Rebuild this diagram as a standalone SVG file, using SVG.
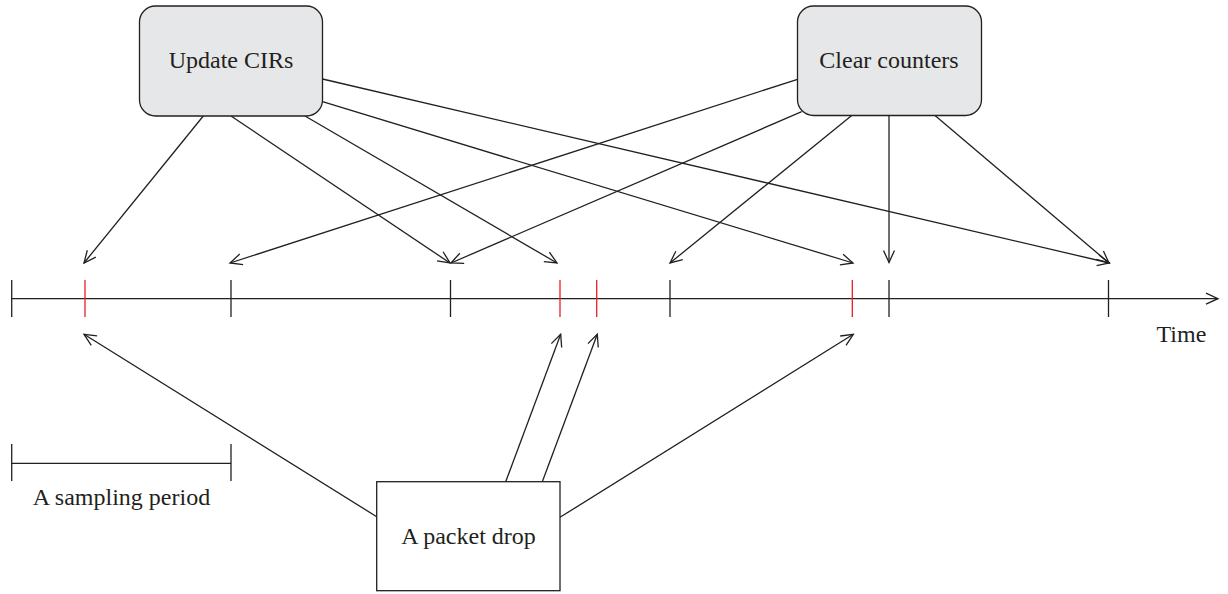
<svg xmlns="http://www.w3.org/2000/svg" width="1228" height="594" viewBox="0 0 1228 594">
  <style>
    .lbl { font-family: "Liberation Serif", "Times New Roman", serif; font-size: 24px; fill: #231f20; }
    .ln { stroke: #231f20; stroke-width: 1.3; fill: none; }
    .arr { stroke: #231f20; stroke-width: 1.3; fill: none; marker-end: url(#head); }
    .tick { stroke: #231f20; stroke-width: 1.3; }
    .red { stroke: #ed1c24; stroke-width: 1.3; }
    .rbox { fill: #e6e7e8; stroke: #231f20; stroke-width: 1.3; }
    .sbox { fill: #ffffff; stroke: #231f20; stroke-width: 1.3; }
  </style>
  <defs>
    <marker id="head" viewBox="-14 -7 16 14" refX="0" refY="0" markerWidth="16" markerHeight="14" markerUnits="userSpaceOnUse" orient="auto">
      <path d="M-12,-5.5 L0,0 L-12,5.5" fill="none" stroke="#231f20" stroke-width="1.3"/>
    </marker>
  </defs>
  <rect width="1228" height="594" fill="#ffffff"/>

  <!-- time axis -->
  <g id="timeline">
    <line class="arr" x1="11.7" y1="298.7" x2="1218" y2="298.7"/>
    <line class="tick" x1="11.7" y1="280" x2="11.7" y2="317"/>
    <line class="red" x1="85" y1="280" x2="85" y2="317"/>
    <line class="tick" x1="231" y1="280" x2="231" y2="317"/>
    <line class="tick" x1="450.5" y1="280" x2="450.5" y2="317"/>
    <line class="red" x1="560" y1="280" x2="560" y2="317"/>
    <line class="red" x1="596.7" y1="280" x2="596.7" y2="317"/>
    <line class="tick" x1="670" y1="280" x2="670" y2="317"/>
    <line class="red" x1="852.3" y1="280" x2="852.3" y2="317"/>
    <line class="tick" x1="889" y1="280" x2="889" y2="317"/>
    <line class="tick" x1="1108.5" y1="280" x2="1108.5" y2="317"/>
    <text class="lbl" x="1156.5" y="342">Time</text>
  </g>

  <!-- sampling period scale -->
  <g id="sampling-period">
    <line class="ln" x1="11.7" y1="463.3" x2="231" y2="463.3"/>
    <line class="tick" x1="11.7" y1="444" x2="11.7" y2="481"/>
    <line class="tick" x1="231" y1="444" x2="231" y2="481"/>
    <text class="lbl" x="121.5" y="505" text-anchor="middle">A sampling period</text>
  </g>

  <!-- connectors -->
  <g id="connectors">
    <!-- Update CIRs -->
    <line class="arr" x1="203.3" y1="116" x2="84" y2="263"/>
    <line class="arr" x1="231" y1="116" x2="450" y2="263"/>
    <line class="arr" x1="305" y1="116" x2="557" y2="263"/>
    <line class="arr" x1="322.5" y1="101.7" x2="853" y2="263"/>
    <line class="arr" x1="322.5" y1="79" x2="1109.5" y2="263"/>
    <!-- Clear counters -->
    <line class="arr" x1="797.5" y1="79.3" x2="230" y2="263"/>
    <line class="arr" x1="801.7" y1="111.7" x2="451" y2="263"/>
    <line class="arr" x1="851.7" y1="115.5" x2="670" y2="263"/>
    <line class="arr" x1="889" y1="115.5" x2="889" y2="262.5"/>
    <line class="arr" x1="935" y1="115.5" x2="1109" y2="263"/>
    <!-- A packet drop -->
    <line class="arr" x1="376.7" y1="516.7" x2="84" y2="334.3"/>
    <line class="arr" x1="505.7" y1="481.7" x2="560.7" y2="334.3"/>
    <line class="arr" x1="542.3" y1="481.7" x2="597.3" y2="334.3"/>
    <line class="arr" x1="560" y1="517.3" x2="853.3" y2="334.3"/>
  </g>

  <!-- nodes -->
  <g id="update-cirs">
    <rect class="rbox" x="139.5" y="6" width="183" height="110" rx="16" ry="16"/>
    <text class="lbl" x="231" y="68" text-anchor="middle">Update CIRs</text>
  </g>
  <g id="clear-counters">
    <rect class="rbox" x="797.5" y="6" width="184" height="109.5" rx="16" ry="16"/>
    <text class="lbl" x="889" y="68" text-anchor="middle">Clear counters</text>
  </g>
  <g id="packet-drop">
    <rect class="sbox" x="376.7" y="481.7" width="183.3" height="109"/>
    <text class="lbl" x="468.5" y="544" text-anchor="middle">A packet drop</text>
  </g>
</svg>
